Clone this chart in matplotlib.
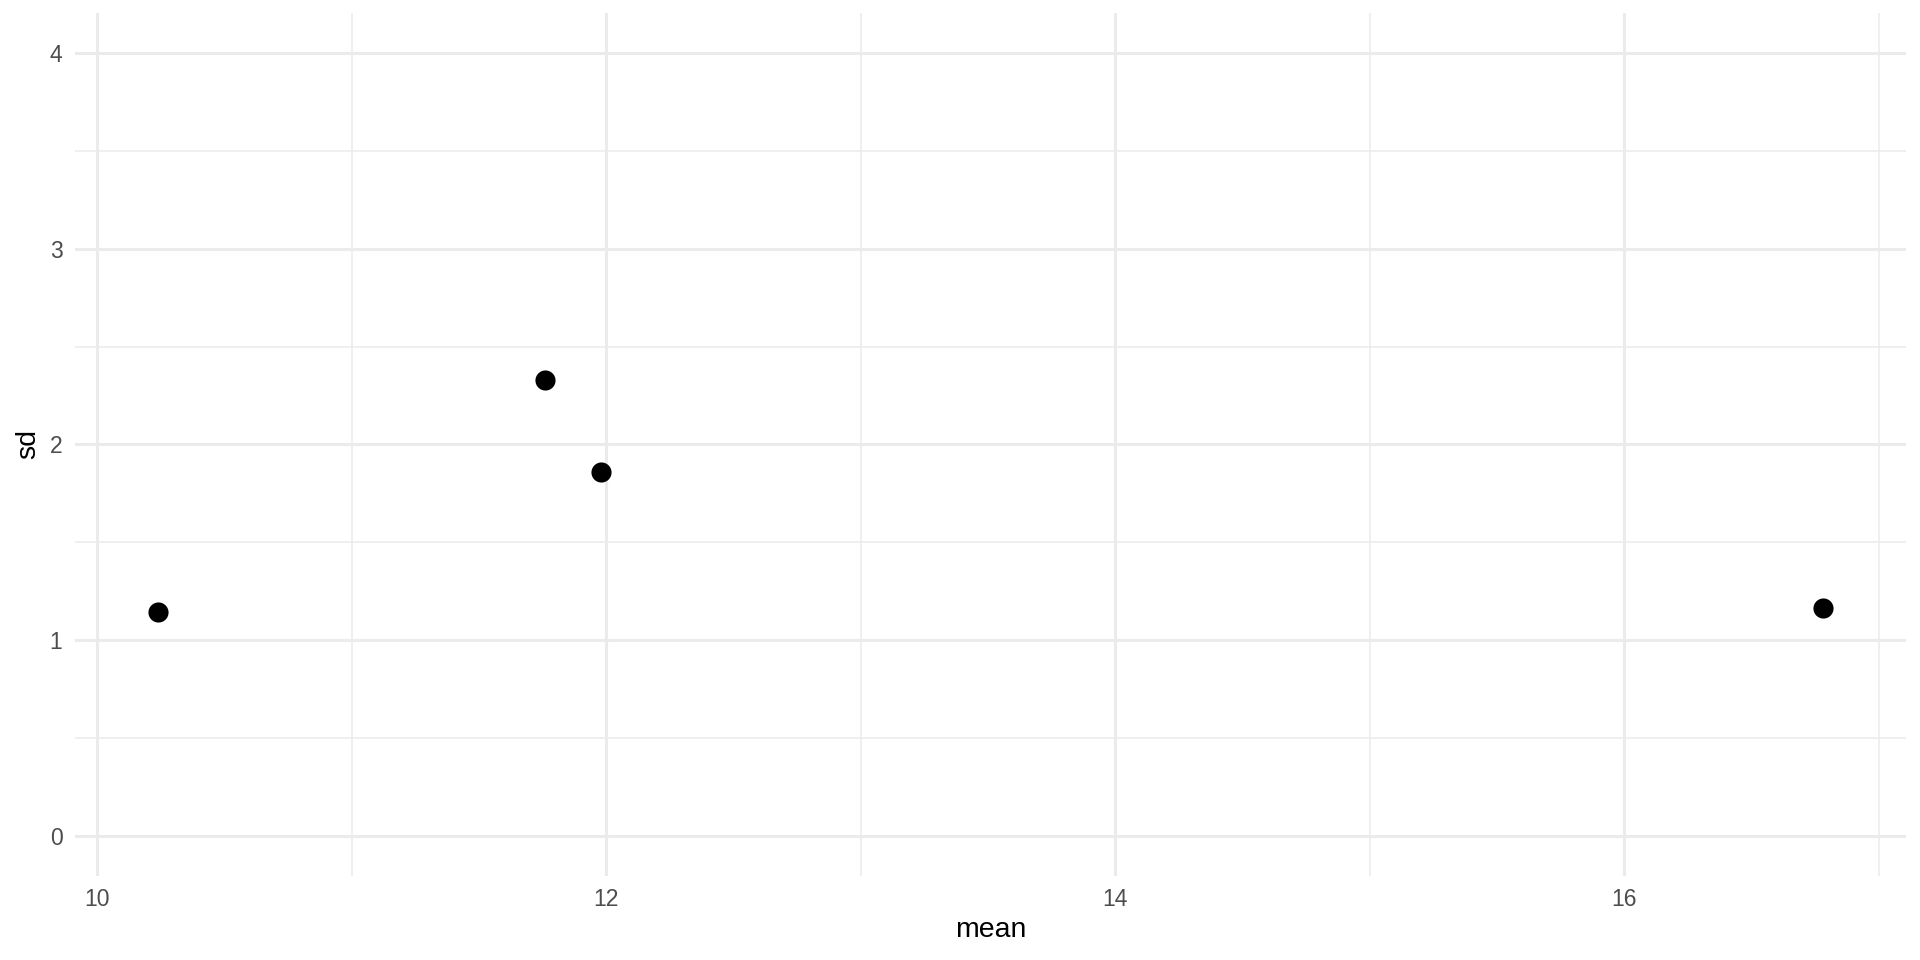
import matplotlib
matplotlib.use("Agg")
import matplotlib.pyplot as plt
import numpy as np

# summary stats per group
mean = [10.24, 11.76, 11.98, 16.78]
sd = [1.145, 2.33, 1.862, 1.165]

x_ticks = [10, 12, 14, 16]
y_ticks = [0, 1, 2, 3, 4]
y_limits = (0, 4)

plt.rcParams['font.family'] = ['Liberation Sans', 'DejaVu Sans']

fig = plt.figure(figsize=(19.2, 9.6), dpi=100)
ax = fig.add_axes([0.039, 0.088, 0.9537, 0.898])

ax.scatter(mean, sd, s=210, color='black', zorder=3, linewidths=0)

# ggplot-style expansion (5% of range)
lo, hi = min(mean), max(mean)
ex = 0.05 * (hi - lo)
ax.set_xlim(lo - ex, hi + ex)
ey = 0.05 * (y_limits[1] - y_limits[0])
ax.set_ylim(y_limits[0] - ey, y_limits[1] + ey)

ax.set_xticks(x_ticks)
ax.set_yticks(y_ticks)
ax.set_xticks(np.arange(11, 18, 2), minor=True)
ax.set_yticks(np.arange(0.5, 4, 1), minor=True)

ax.grid(True, which='major', color='#EBEBEB', linewidth=2.2)
ax.grid(True, which='minor', color='#EBEBEB', linewidth=1.1)
ax.set_axisbelow(True)

for s in ax.spines.values():
    s.set_visible(False)
ax.tick_params(which='both', length=0)
ax.tick_params(axis='x', labelsize=16.5, labelcolor='#4D4D4D', pad=9)
ax.tick_params(axis='y', labelsize=16.5, labelcolor='#4D4D4D', pad=9)

ax.set_xlabel('mean', fontsize=20.5, color='black', labelpad=4)
ax.set_ylabel('sd', fontsize=20.5, color='black', labelpad=6)

fig.savefig('out.png', dpi=100, facecolor='white')
